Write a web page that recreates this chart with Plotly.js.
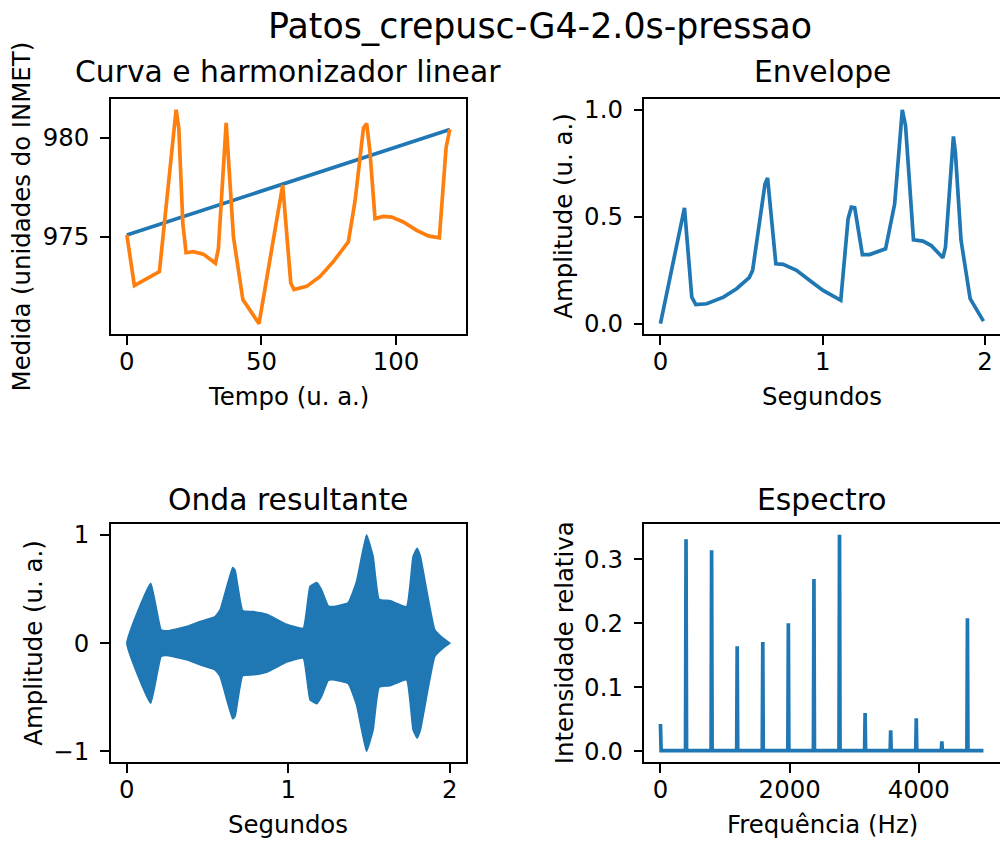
<!DOCTYPE html>
<html>
<head>
<meta charset="utf-8">
<script src="https://cdn.plot.ly/plotly-3.0.1.min.js"></script>
<style>html,body{margin:0;padding:0;background:#fff;}#chart{width:1000px;height:843px;}</style>
</head>
<body>
<div id="chart"></div>
<script>
// ---- Curva e harmonizador linear ----
const tempo = [0, 2.8, 12.1, 18.3, 19.3, 20.8, 22.0, 24.7, 28.4, 30.9, 32.9, 34.0, 36.9, 39.6, 43.1, 49.1, 57.9, 60.9, 62.1, 66.8, 71.8, 76.7, 82.3, 84.8, 87.9, 89.1, 90.3, 92.2, 95.3, 98.4, 102.7, 107.7, 112.0, 116.1, 118.6, 120.0];
const medida = [975.09, 972.54, 973.25, 981.42, 980.5, 975.67, 974.2, 974.25, 974.13, 973.9, 973.67, 974.4, 980.75, 975.0, 971.83, 970.62, 977.62, 972.67, 972.34, 972.5, 973.0, 973.75, 974.75, 976.83, 980.5, 980.72, 979.33, 975.92, 976.03, 976.0, 975.75, 975.33, 975.05, 974.95, 979.5, 980.42];
const linhaTempo = [0, 120];
const linhaMedida = [975.09, 980.42];

// ---- Envelope ----
const envT = [0, 0.148, 0.193, 0.218, 0.285, 0.388, 0.469, 0.547, 0.568, 0.644, 0.660, 0.711, 0.756, 0.838, 0.920, 1.002, 1.111, 1.156, 1.176, 1.197, 1.244, 1.289, 1.387, 1.443, 1.490, 1.510, 1.559, 1.617, 1.668, 1.740, 1.756, 1.797, 1.805, 1.817, 1.852, 1.908, 1.990];
const envA = [0.0, 0.541, 0.124, 0.089, 0.093, 0.124, 0.163, 0.215, 0.249, 0.653, 0.681, 0.280, 0.277, 0.249, 0.202, 0.155, 0.109, 0.49, 0.544, 0.541, 0.323, 0.323, 0.35, 0.56, 0.999, 0.925, 0.392, 0.386, 0.365, 0.308, 0.357, 0.793, 0.875, 0.80, 0.389, 0.117, 0.012];

// ---- Onda resultante (amplitude envelope of the dense oscillation) ----
const ondaT = [0, 0.148, 0.212, 0.247, 0.371, 0.453, 0.546, 0.577, 0.655, 0.670, 0.717, 0.783, 0.866, 0.989, 1.092, 1.134, 1.175, 1.206, 1.247, 1.278, 1.371, 1.422, 1.484, 1.525, 1.562, 1.628, 1.732, 1.772, 1.797, 1.818, 1.907, 1.958, 2.0];
const ondaA = [0, 0.554, 0.123, 0.114, 0.153, 0.2, 0.246, 0.307, 0.698, 0.677, 0.301, 0.292, 0.268, 0.175, 0.138, 0.523, 0.560, 0.492, 0.344, 0.338, 0.375, 0.569, 1.0, 0.80, 0.406, 0.393, 0.338, 0.80, 0.877, 0.80, 0.123, 0.046, 0];

// ---- Espectro ----
const harmFreq = [0, 396, 792, 1188, 1584, 1980, 2376, 2772, 3168, 3564, 3960, 4356, 4752];
const harmInt = [0.043, 0.331, 0.314, 0.164, 0.171, 0.200, 0.269, 0.338, 0.060, 0.033, 0.052, 0.016, 0.208];
const baseInt = 0.0015;
const freqMax = 5000;

// ---- tick labels ----
const ticks1x = [0, 50, 100], ticks1xText = ["0", "50", "100"];
const ticks1y = [975, 980], ticks1yText = ["975", "980"];
const ticksSegX = [0, 1, 2], ticksSegXText = ["0", "1", "2"];
const ticks2y = [0, 0.5, 1.0], ticks2yText = ["0.0", "0.5", "1.0"];
const ticks3y = [-1, 0, 1], ticks3yText = ["\u22121", "0", "1"];
const ticks4x = [0, 2000, 4000], ticks4xText = ["0", "2000", "4000"];
const ticks4y = [0, 0.1, 0.2, 0.3], ticks4yText = ["0.0", "0.1", "0.2", "0.3"];

const BLUE = "#1f77b4", ORANGE = "#ff7f0e";
const LW = 3.7;

// build spectrum line from harmonics
const specX = [harmFreq[0]], specY = [harmInt[0]];
specX.push(harmFreq[0] + 10); specY.push(baseInt);
for (let k = 1; k < harmFreq.length; k++) {
  specX.push(harmFreq[k] - 8, harmFreq[k], harmFreq[k] + 8);
  specY.push(baseInt, harmInt[k], baseInt);
}
specX.push(freqMax); specY.push(baseInt);

// wave polygon (upper envelope, then mirrored lower)
const waveX = ondaT.concat(ondaT.slice().reverse());
const waveY = ondaA.concat(ondaA.slice().reverse().map(v => -v));

const traces = [
  {x: linhaTempo, y: linhaMedida, xaxis: "x", yaxis: "y", mode: "lines", line: {color: BLUE, width: LW}},
  {x: tempo, y: medida, xaxis: "x", yaxis: "y", mode: "lines", line: {color: ORANGE, width: LW}},
  {x: envT, y: envA, xaxis: "x2", yaxis: "y2", mode: "lines", line: {color: BLUE, width: LW}},
  {x: waveX, y: waveY, xaxis: "x3", yaxis: "y3", mode: "lines", fill: "toself", fillcolor: BLUE, line: {color: BLUE, width: 1.5, shape: "spline", smoothing: 0.35}},
  {x: specX, y: specY, xaxis: "x4", yaxis: "y4", mode: "lines", line: {color: BLUE, width: LW}}
];

const FONT = "DejaVu Sans";
function ax(domain, range, tv, tt, anchor, standoff) {
  return {
    domain: domain, range: range, anchor: anchor,
    tickmode: "array", tickvals: tv, ticktext: tt,
    showline: true, mirror: true, linecolor: "#000", linewidth: 2,
    ticks: "outside", ticklen: 8.5, tickwidth: 2, tickcolor: "#000",
    showgrid: false, zeroline: false,
    tickfont: {family: FONT, size: 24.4, color: "#000"},
    ticklabelstandoff: standoff,
    fixedrange: true
  };
}

const X1 = [0.1107, 0.466], X2 = [0.6443, 0.9996];
const YT = [0.6034, 0.8826], YB = [0.0957, 0.3784];
const SX = -4, SY = 6;

const layout = {
  width: 1000, height: 843,
  margin: {l: 0, r: 0, t: 0, b: 0},
  paper_bgcolor: "#fff", plot_bgcolor: "#fff",
  showlegend: false,
  font: {family: FONT, color: "#000"},
  xaxis: ax(X1, [-6, 126], ticks1x, ticks1xText, "y", SX),
  yaxis: ax(YT, [970.08, 981.96], ticks1y, ticks1yText, "x", SY),
  xaxis2: ax(X2, [-0.0995, 2.0895], ticksSegX, ticksSegXText, "y2", SX),
  yaxis2: ax(YT, [-0.05, 1.05], ticks2y, ticks2yText, "x2", SY),
  xaxis3: ax(X1, [-0.1, 2.1], ticksSegX, ticksSegXText, "y3", SX),
  yaxis3: ax(YB, [-1.1, 1.1], ticks3y, ticks3yText, "x3", SY),
  xaxis4: ax(X2, [-250, 5250], ticks4x, ticks4xText, "y4", SX),
  yaxis4: ax(YB, [-0.0169, 0.3549], ticks4y, ticks4yText, "x4", SY),
  annotations: []
};

function note(text, xpx, ypx, size, angle) {
  layout.annotations.push({
    text: text, xref: "paper", yref: "paper",
    x: xpx / 1000, y: 1 - ypx / 843,
    xanchor: "center", yanchor: "middle", showarrow: false,
    textangle: angle || 0,
    font: {family: FONT, size: size, color: "#000"}
  });
}
note("Patos_crepusc-G4-2.0s-pressao", 540, 26.4, 34.8);
note("Curva e harmonizador linear", 288.4, 71.5, 29.8);
note("Envelope", 822, 71.5, 29.8);
note("Onda resultante", 288.4, 499.1, 29.8);
note("Espectro", 822, 499.1, 29.8);
note("Tempo (u. a.)", 288.4, 396.5, 24.4);
note("Segundos", 822, 396.5, 24.4);
note("Segundos", 288.4, 824, 24.4);
note("Frequência (Hz)", 822, 824, 24.4);
note("Medida (unidades do INMET)", 21.7, 216.7, 24.4, -90);
note("Amplitude (u. a.)", 564, 216.7, 24.4, -90);
note("Amplitude (u. a.)", 33.5, 643.2, 24.4, -90);
note("Intensidade relativa", 564, 643.2, 24.4, -90);

Plotly.newPlot("chart", traces, layout, {displayModeBar: false, staticPlot: true});
</script>
</body>
</html>
